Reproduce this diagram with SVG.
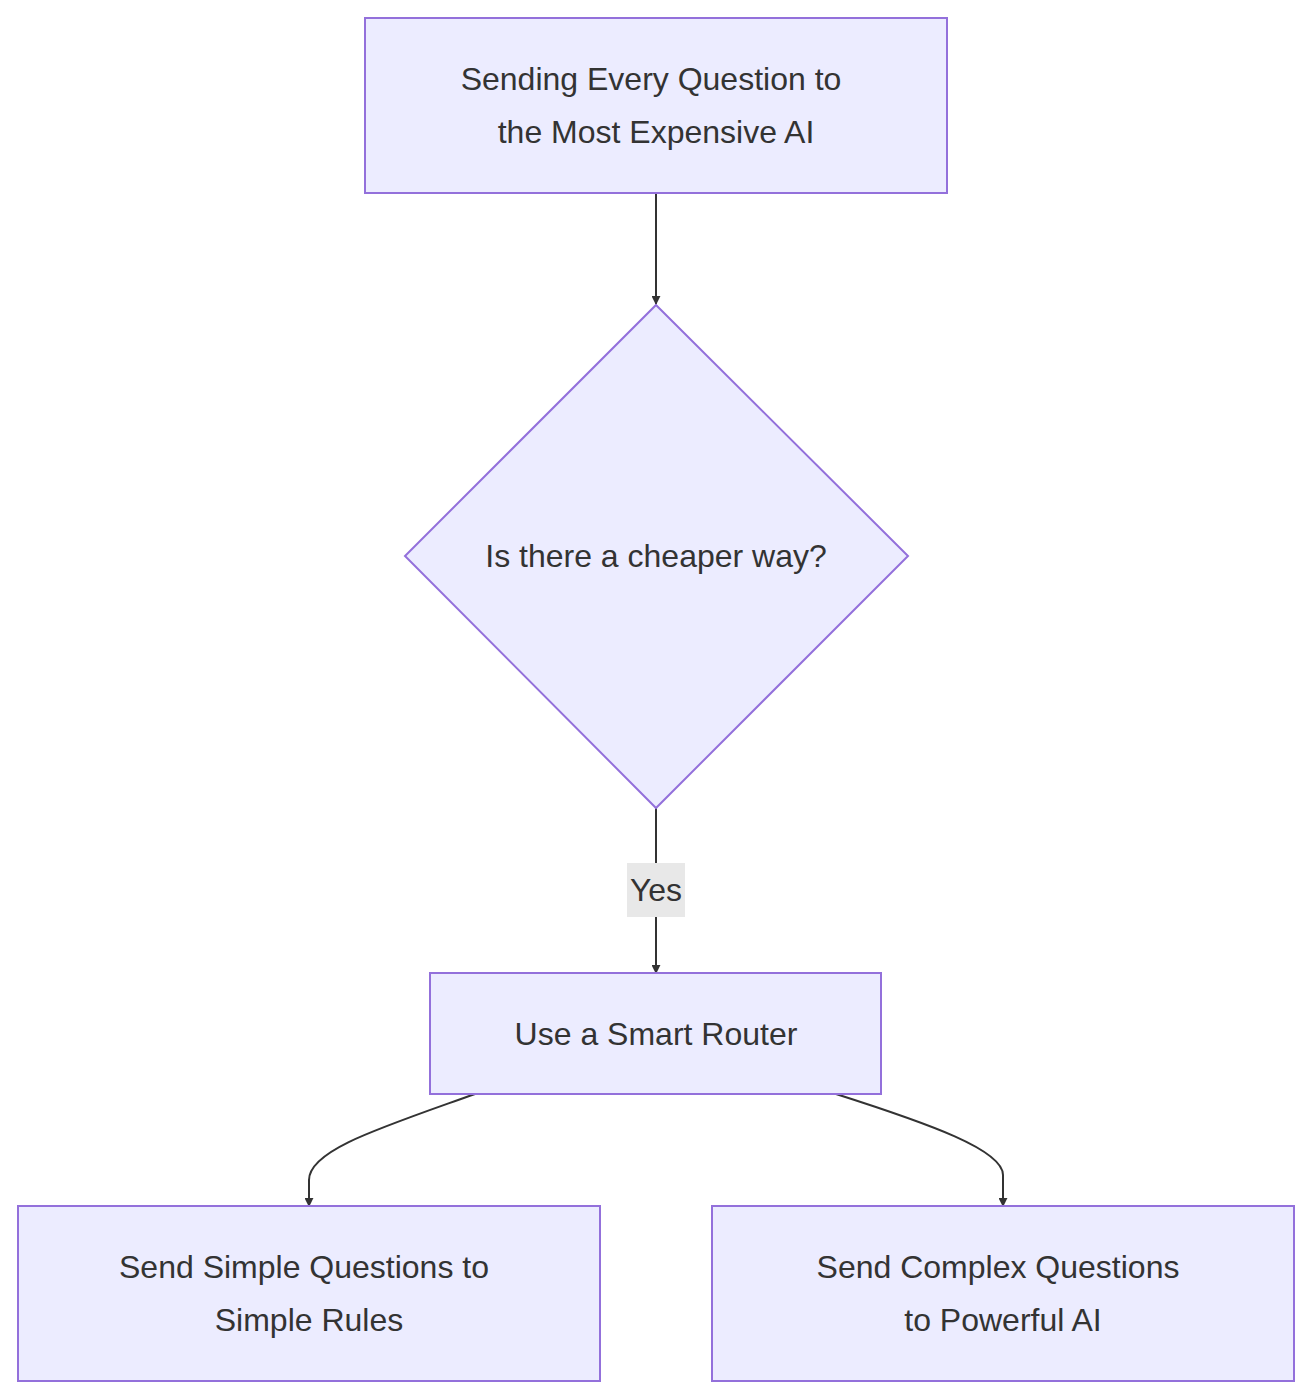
<svg xmlns="http://www.w3.org/2000/svg" width="1312" height="1399" viewBox="0 0 1312 1399">
<style>
.n{fill:#ECECFF;stroke:#9370DB;stroke-width:2}
.t{font-family:"Liberation Sans",Arial,sans-serif;font-size:32px;fill:#333;text-anchor:middle}
.e{fill:none;stroke:#333;stroke-width:2}
</style>
<defs><marker id="a" viewBox="0 0 10 10" refX="9" refY="5" markerWidth="9" markerHeight="9" markerUnits="userSpaceOnUse" orient="auto"><path d="M0,0L10,5L0,10z" fill="#333"/></marker></defs>
<rect width="1312" height="1399" fill="#fff"/>
<g id="edges">
<path class="e" d="M656,193V304" marker-end="url(#a)"/>
<path class="e" d="M656,808V973" marker-end="url(#a)"/>
<path class="e" d="M475,1094C380,1128 309,1150 309,1180V1206" marker-end="url(#a)"/>
<path class="e" d="M836,1094C930,1124 1003,1150 1003,1175V1206" marker-end="url(#a)"/>
<rect x="627" y="863" width="58" height="54" fill="#e8e8e8"/>
<text class="t" x="656" y="901">Yes</text>
</g>
<g id="n1"><rect class="n" x="365" y="18" width="582" height="175"/><text class="t" x="651" y="90">Sending Every Question to</text><text class="t" x="656" y="143">the Most Expensive AI</text></g>
<g id="n2"><polygon class="n" points="656,305 908,556 656,808 405,556"/><text class="t" x="656" y="567">Is there a cheaper way?</text></g>
<g id="n3"><rect class="n" x="430" y="973" width="451" height="121"/><text class="t" x="656" y="1045">Use a Smart Router</text></g>
<g id="n4"><rect class="n" x="18" y="1206" width="582" height="175"/><text class="t" x="304" y="1278">Send Simple Questions to</text><text class="t" x="309" y="1331">Simple Rules</text></g>
<g id="n5"><rect class="n" x="712" y="1206" width="582" height="175"/><text class="t" x="998" y="1278">Send Complex Questions</text><text class="t" x="1003" y="1331">to Powerful AI</text></g>
</svg>
